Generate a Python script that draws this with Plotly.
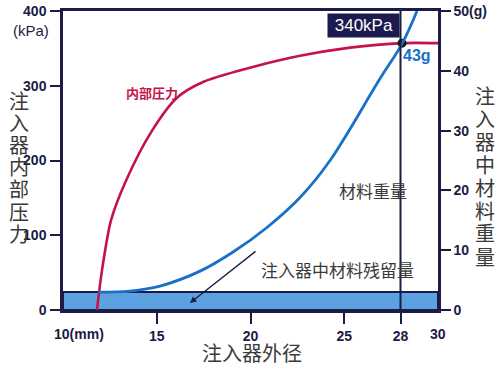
import plotly.graph_objects as go

# ---- data ----
diam_pressure = [11.81, 12.08, 12.56, 13.36, 14.75, 16.08, 17.47, 19.97, 22.64, 25.31, 28.08, 30.0]
pressure_kpa = [0, 53, 120, 173, 240, 284, 305, 324, 340, 351, 357, 357]

diam_weight = [11.87, 13.57, 15.17, 17.31, 19.07, 20.88, 22.64, 24.24, 26.91, 28.08, 28.88]
weight_g = [3.0, 3.17, 4.0, 6.5, 9.7, 13.8, 18.8, 25.0, 38.7, 44.5, 50.0]

residual_g = 3.0
intersect_diam = 28.08
intersect_kpa = 357

x_ticks = [15, 20, 25, 28]
y_ticks = [0, 100, 200, 300, 400]
y2_ticks = [0, 10, 20, 30, 40, 50]
y2_ticktext = ["0", "10", "20", "30", "40", "50(g)"]

NAVY = "#1b1b45"
RED = "#c4124a"
BLUE = "#1a70c8"
NUM_FONT = "Liberation Sans Narrow, Liberation Sans, Arial, sans-serif"
CJK = "Noto Sans CJK SC"

L, R, T, B = 63, 62, 11, 60
W, H = 500, 370
PW, PH = W - L - R, H - T - B


def px(x):
    return (x - L) / PW


def py(y):
    return (H - B - y) / PH


def label(x, y, text, font, **kw):
    d = dict(x=px(x), y=py(y), xref="paper", yref="paper", text=text, showarrow=False,
             xanchor="center", yanchor="middle", font=font)
    d.update(kw)
    return d


fig = go.Figure()

fig.add_trace(go.Scatter(x=diam_pressure, y=pressure_kpa, mode="lines",
                         line=dict(color=RED, width=2.6, shape="spline", smoothing=0.8),
                         hoverinfo="skip", showlegend=False))
fig.add_trace(go.Scatter(x=diam_weight, y=weight_g, mode="lines", yaxis="y2",
                         line=dict(color=BLUE, width=2.8, shape="spline", smoothing=1.0),
                         hoverinfo="skip", showlegend=False))
fig.add_trace(go.Scatter(x=[intersect_diam], y=[intersect_kpa], mode="markers",
                         marker=dict(color="#111111", size=9),
                         hoverinfo="skip", showlegend=False))

shapes = [
    dict(type="rect", xref="x", yref="y2", x0=10, x1=30, y0=0, y1=residual_g,
         fillcolor="#5ca2e0", line=dict(color=NAVY, width=2), layer="below"),
    dict(type="line", xref="x", yref="paper", x0=28, x1=28, y0=0, y1=1,
         line=dict(color=NAVY, width=2)),
]

title_font = dict(family=CJK, size=20, color="#3a3a3a")
ann = []
for i, ch in enumerate("注入器内部压力"):
    ann.append(label(19, 100 + i * 22.2, ch, title_font))
for i, ch in enumerate("注入器中材料重量"):
    ann.append(label(485, 95 + i * 23, ch, title_font))
ann.append(label(252, 353, "注入器外径", title_font))
ann.append(label(31, 31, "(kPa)", dict(family="Liberation Sans, Arial", size=15, color=NAVY)))
ann.append(label(79, 334, "10(mm)", dict(family=NUM_FONT, size=14, color=NAVY, weight="bold")))
ann.append(label(438, 334, "30", dict(family=NUM_FONT, size=14, color=NAVY, weight="bold")))
ann.append(label(152, 92, "<b>内部圧力</b>", dict(family="Noto Sans CJK JP", size=13, color=RED)))
ann.append(label(373, 190, "材料重量", dict(family=CJK, size=17, color="#3a3a3a")))
ann.append(label(337, 269, "注入器中材料残留量", dict(family=CJK, size=17, color="#3a3a3a")))
ann.append(label(363, 26, "&nbsp;340kPa&nbsp;",
                 dict(family="Liberation Sans, Arial", size=17, color="white"),
                 bgcolor="#1b1b50", borderpad=2))
ann.append(label(417, 55, "43g", dict(family=NUM_FONT, size=16, color=BLUE, weight="bold")))
# arrow to the residual band
ann.append(dict(x=16.77, y=9.3, ax=20.35, ay=80, xref="x", yref="y", axref="x", ayref="y",
                text="", showarrow=True, arrowhead=2, arrowsize=1, arrowwidth=1.3,
                arrowcolor=NAVY))

tickfont = dict(family=NUM_FONT, size=14, color=NAVY, weight="bold")

fig.update_layout(
    width=W, height=H,
    margin=dict(l=L, r=R, t=T, b=B, autoexpand=False),
    paper_bgcolor="white", plot_bgcolor="white",
    shapes=shapes, annotations=ann,
    xaxis=dict(range=[10, 30], tickvals=x_ticks, ticks="outside", ticklen=11, tickwidth=2,
               tickcolor=NAVY, showline=True, linecolor=NAVY, linewidth=2.5, mirror=True,
               showgrid=False, zeroline=False, tickfont=tickfont, fixedrange=True,
               automargin=False),
    yaxis=dict(range=[0, 400], tickvals=y_ticks, ticks="outside", ticklen=10, tickwidth=2,
               tickcolor=NAVY, showline=True, linecolor=NAVY, linewidth=2.5,
               showgrid=False, zeroline=False, tickfont=tickfont, ticklabelstandoff=1,
               automargin=False),
    yaxis2=dict(range=[0, 50], overlaying="y", side="right", tickvals=y2_ticks,
                ticktext=y2_ticktext, ticks="outside", ticklen=10, tickwidth=2, tickcolor=NAVY,
                showline=True, linecolor=NAVY, linewidth=2.5, showgrid=False, zeroline=False,
                tickfont=tickfont, automargin=False),
)

fig.write_html("out.html", config={"displayModeBar": False},
               post_script="document.body.style.margin='0';")
